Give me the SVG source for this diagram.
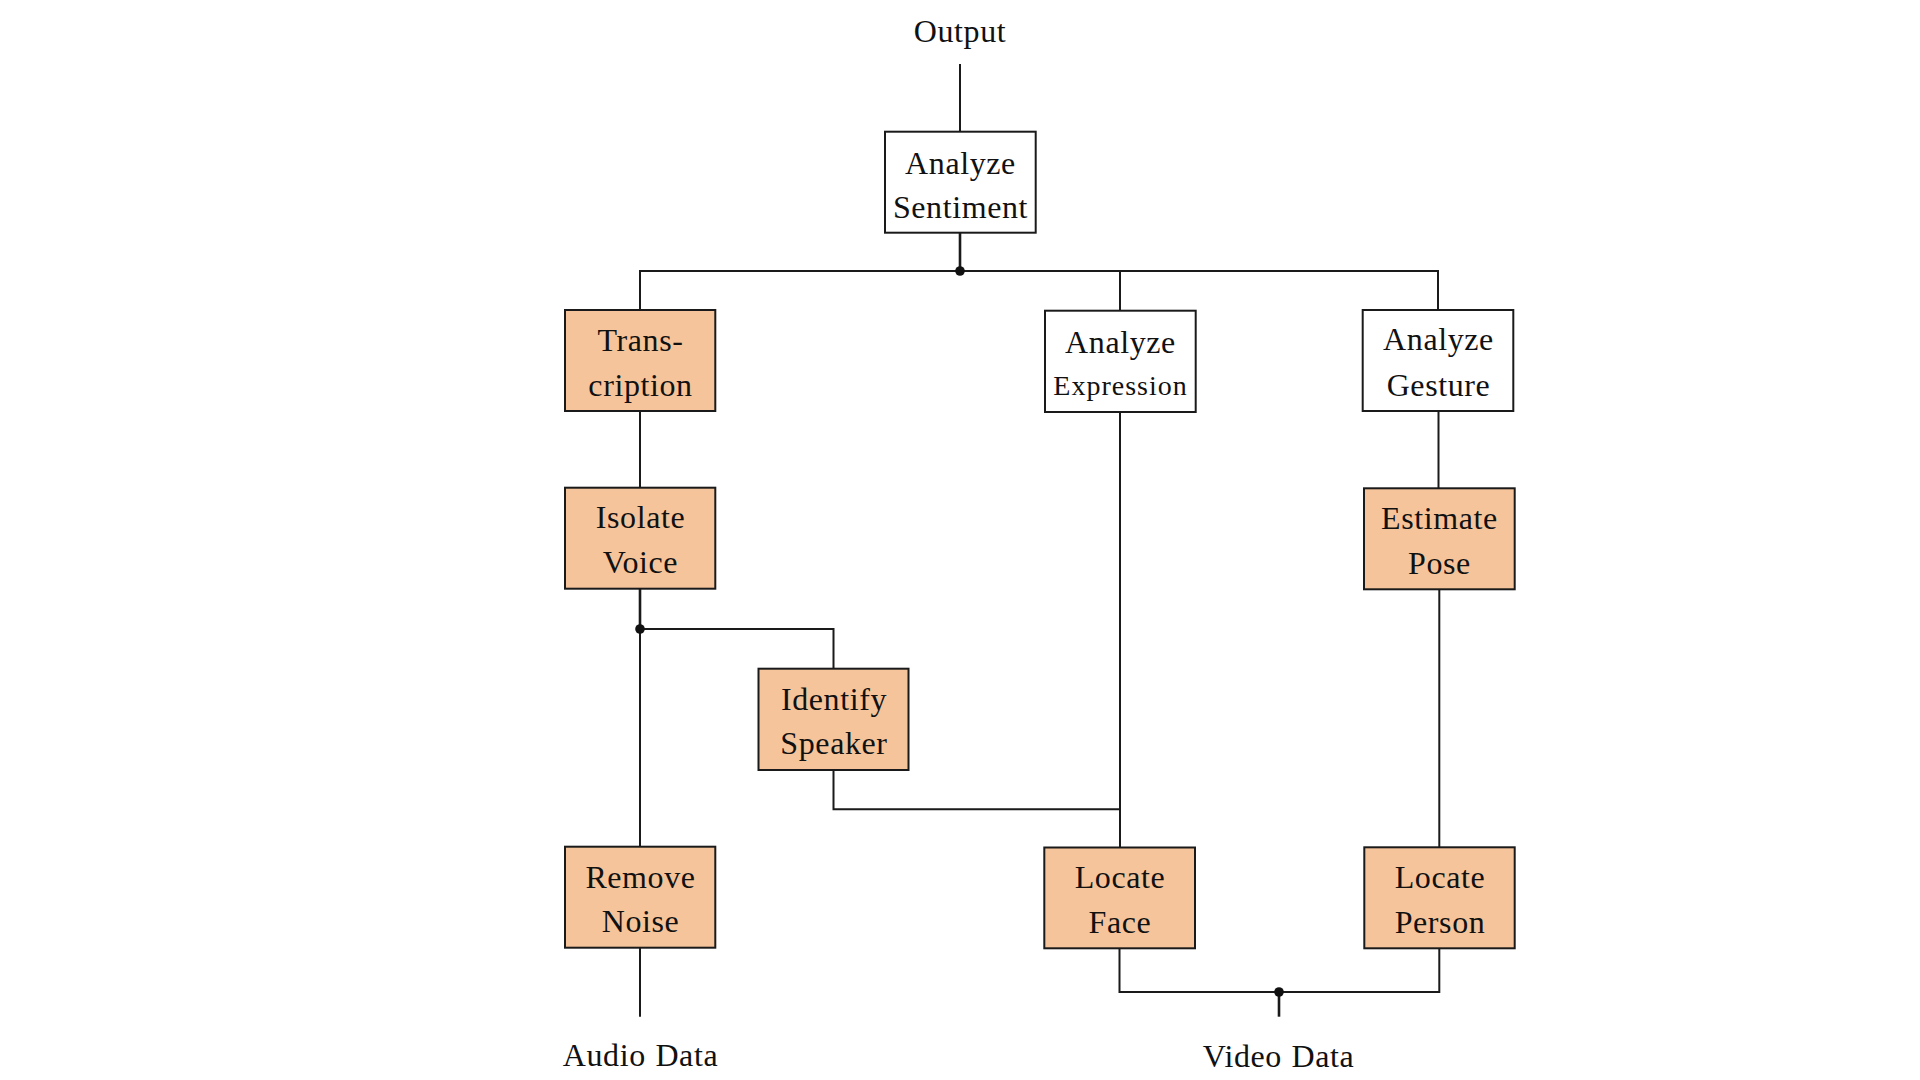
<svg xmlns="http://www.w3.org/2000/svg" width="1920" height="1080" viewBox="0 0 1920 1080">
<style>
  .box { stroke: #1a1a1a; stroke-width: 2; }
  .white { fill: #ffffff; }
  .peach { fill: #F6C49B; }
  text { font-family: "Liberation Serif", "Times New Roman", serif; font-size: 32px; fill: #111; text-anchor: middle; letter-spacing: 0.6px; word-spacing: 1px; }
  text.small { font-size: 28px; letter-spacing: 1px; }
  .conn path { fill: none; stroke: #1a1a1a; stroke-width: 2; }
  .conn .thick { stroke-width: 2.6; }
  .dot { fill: #111; }
</style>
<rect width="1920" height="1080" fill="#ffffff"/>
<g id="connectors" class="conn">
  <path d="M960,64 V131.7"/>
  <path class="thick" d="M960,232.7 V271"/>
  <path d="M640,310 V271 H1438 V310"/>
  <path d="M1120,271 V310.7"/>
  <path d="M640,411 V487.7"/>
  <path class="thick" d="M640,588.7 V629"/>
  <path d="M640,629 V846.7"/>
  <path d="M640,629 H833.5 V668.7"/>
  <path d="M833.5,770 V809.3 H1120"/>
  <path d="M1120,412 V847.5"/>
  <path d="M1438.5,411 V488.3"/>
  <path d="M1439.3,589.3 V847.3"/>
  <path d="M1119.5,948.3 V992 H1439.3 V948.3"/>
  <path class="thick" d="M1279,992 V1016.7"/>
  <path d="M640,947.7 V1016.7"/>
  <circle class="dot" cx="960" cy="271" r="4.8"/>
  <circle class="dot" cx="640" cy="629" r="4.8"/>
  <circle class="dot" cx="1279" cy="992" r="4.8"/>
</g>
<g id="output-label"><text x="960" y="41.7">Output</text></g>
<g id="analyze-sentiment">
  <rect class="box white" x="885" y="131.7" width="150.7" height="101"/>
  <text x="960.5" y="174">Analyze</text>
  <text x="960.5" y="218.3">Sentiment</text>
</g>
<g id="transcription">
  <rect class="box peach" x="565" y="310" width="150.3" height="101"/>
  <text x="640.5" y="351">Trans-</text>
  <text x="640.5" y="395.7">cription</text>
</g>
<g id="analyze-expression">
  <rect class="box white" x="1045" y="310.7" width="150.7" height="101.3"/>
  <text x="1120.5" y="353.3">Analyze</text>
  <text class="small" x="1120.5" y="395">Expression</text>
</g>
<g id="analyze-gesture">
  <rect class="box white" x="1362.7" y="310" width="150.6" height="101"/>
  <text x="1438.5" y="350">Analyze</text>
  <text x="1438.5" y="395.7">Gesture</text>
</g>
<g id="isolate-voice">
  <rect class="box peach" x="565" y="487.7" width="150.3" height="101"/>
  <text x="640.5" y="528">Isolate</text>
  <text x="640.5" y="573">Voice</text>
</g>
<g id="estimate-pose">
  <rect class="box peach" x="1364" y="488.3" width="150.7" height="101"/>
  <text x="1439.5" y="529">Estimate</text>
  <text x="1439.5" y="574">Pose</text>
</g>
<g id="identify-speaker">
  <rect class="box peach" x="758.5" y="668.7" width="150" height="101.3"/>
  <text x="834" y="710">Identify</text>
  <text x="834" y="754">Speaker</text>
</g>
<g id="remove-noise">
  <rect class="box peach" x="565" y="846.7" width="150.3" height="101"/>
  <text x="640.5" y="888.3">Remove</text>
  <text x="640.5" y="932.3">Noise</text>
</g>
<g id="locate-face">
  <rect class="box peach" x="1044.3" y="847.5" width="150.7" height="100.8"/>
  <text x="1120" y="888.3">Locate</text>
  <text x="1120" y="933.3">Face</text>
</g>
<g id="locate-person">
  <rect class="box peach" x="1364.3" y="847.3" width="150.4" height="101"/>
  <text x="1440" y="888.3">Locate</text>
  <text x="1440" y="933.3">Person</text>
</g>
<g id="audio-data-label"><text x="640.5" y="1066">Audio Data</text></g>
<g id="video-data-label"><text x="1278.5" y="1066.7">Video Data</text></g>
</svg>
